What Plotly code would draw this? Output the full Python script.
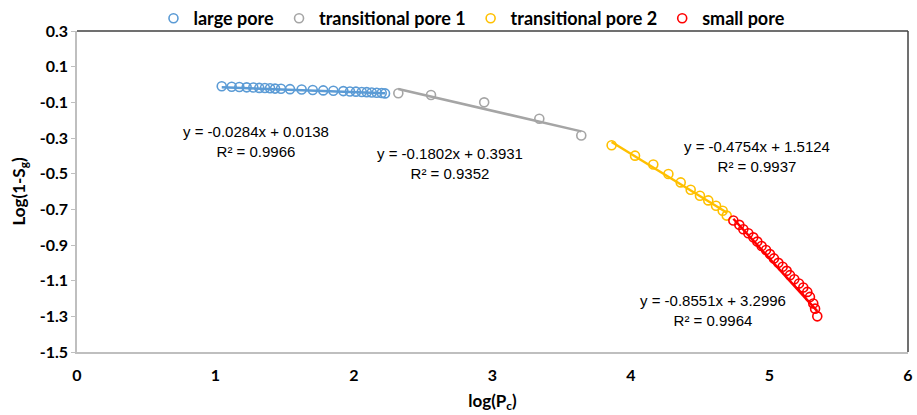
import plotly.graph_objects as go
import numpy as np

# ---------------- data ----------------
large_x = [1.045, 1.117, 1.172, 1.225, 1.273, 1.316, 1.357, 1.394, 1.430, 1.473, 1.538, 1.622,
           1.702, 1.778, 1.851, 1.923, 1.971, 2.014, 2.056, 2.092, 2.128, 2.164, 2.200, 2.224]
large_y = [-0.010, -0.013, -0.014, -0.016, -0.017, -0.019, -0.020, -0.021, -0.023, -0.024, -0.026, -0.028,
           -0.031, -0.033, -0.035, -0.037, -0.039, -0.040, -0.042, -0.043, -0.045, -0.046, -0.048, -0.050]

trans1_x = [2.320, 2.556, 2.940, 3.338, 3.641]
trans1_y = [-0.049, -0.059, -0.100, -0.192, -0.286]

trans2_x = [3.860, 4.029, 4.161, 4.270, 4.359, 4.431, 4.498, 4.558, 4.614, 4.662, 4.691]
trans2_y = [-0.341, -0.399, -0.449, -0.502, -0.549, -0.590, -0.624, -0.650, -0.680, -0.708, -0.735]

small_x = [4.739, 4.782, 4.811, 4.847, 4.883, 4.912, 4.943, 4.975, 5.003, 5.032, 5.064,
           5.095, 5.124, 5.148, 5.179, 5.213, 5.244, 5.273, 5.292, 5.316, 5.329, 5.345]
small_y = [-0.763, -0.787, -0.812, -0.834, -0.857, -0.881, -0.906, -0.928, -0.951, -0.975, -1.000,
           -1.022, -1.045, -1.069, -1.092, -1.116, -1.138, -1.163, -1.191, -1.228, -1.257, -1.300]

series_names = ["large pore", "transitional pore 1", "transitional pore 2", "small pore"]
series_colors = ["#5B9BD5", "#A5A5A5", "#FFC000", "#FF0000"]
slopes = [-0.0284, -0.1802, -0.4754, -0.8551]
intercepts = [0.0138, 0.3931, 1.5124, 3.2996]
r2_values = [0.9966, 0.9352, 0.9937, 0.9964]
label_pos_x = [1.29, 2.69, 4.91, 4.59]
label_pos_y = [-0.317, -0.444, -0.401, -1.269]

y_tick_vals = [0.3, 0.1, -0.1, -0.3, -0.5, -0.7, -0.9, -1.1, -1.3, -1.5]
y_tick_text = ["0.3", "0.1", "-0.1", "-0.3", "-0.5", "-0.7", "-0.9", "-1.1", "-1.3", "-1.5"]
x_tick_vals = [0, 1, 2, 3, 4, 5, 6]
x_tick_text = ["0", "1", "2", "3", "4", "5", "6"]

xs = [large_x, trans1_x, trans2_x, small_x]
ys = [large_y, trans1_y, trans2_y, small_y]

fig = go.Figure()

# trendlines
for x, name, c, m, b in zip(xs, series_names, series_colors, slopes, intercepts):
    lx = np.array([min(x), max(x)])
    fig.add_trace(go.Scatter(x=lx, y=m * lx + b, mode="lines",
                             line=dict(color=c, width=2.5), showlegend=False,
                             hoverinfo="skip"))

# data points
for x, y, name, c in zip(xs, ys, series_names, series_colors):
    fig.add_trace(go.Scatter(x=x, y=y, mode="markers", name=name,
                             marker=dict(symbol="circle-open", size=9, color=c,
                                         line=dict(width=1.6, color=c))))

# equation labels
for m, b, r2, lx, ly in zip(slopes, intercepts, r2_values, label_pos_x, label_pos_y):
    txt = f"y = {m:.4f}x + {b:.4f}<br>R² = {r2:.4f}"
    fig.add_annotation(x=lx, y=ly, text=txt, showarrow=False, align="center",
                       xanchor="center", yanchor="middle",
                       font=dict(family="Liberation Sans", size=15, color="#000000"))

H = 415
M_BOTTOM = 63
PLOT_TOP = 31
domain_top = (H - M_BOTTOM - PLOT_TOP) / (H - M_BOTTOM)

fig.update_layout(
    width=917, height=H,
    margin=dict(l=77, r=9, t=0, b=M_BOTTOM, autoexpand=False),
    paper_bgcolor="white", plot_bgcolor="white",
    showlegend=True,
    legend=dict(orientation="h", x=0.4753, xanchor="center", y=1.0, yanchor="top",
                font=dict(family="Lato", size=18, color="#000000", weight="bold"),
                itemwidth=30, tracegroupgap=0, bgcolor="rgba(0,0,0,0)"),
    xaxis=dict(range=[0, 6], tickmode="array", tickvals=x_tick_vals, ticktext=x_tick_text,
               showgrid=False, zeroline=False, automargin=False,
               showline=True, linecolor="#BFBFBF", linewidth=1.5,
               ticks="", tickfont=dict(family="Lato", size=16, color="#000000", weight="bold"),
               ticklabelstandoff=8,
               title=dict(text="<b>log(P<sub>c</sub>)</b>", font=dict(family="Lato", size=17, color="#000000"),
                          standoff=12)),
    yaxis=dict(domain=[0, domain_top], range=[-1.5, 0.3],
               tickmode="array", tickvals=y_tick_vals, ticktext=y_tick_text,
               automargin=False, showgrid=False, zeroline=False,
               showline=True, linecolor="#BFBFBF", linewidth=1.5,
               ticks="outside", ticklen=4, tickcolor="#BFBFBF",
               tickfont=dict(family="Lato", size=16, color="#000000", weight="bold"),
               title=dict(text="<b>Log(1-S<sub>g</sub>)</b>", font=dict(family="Lato", size=17, color="#000000"),
                          standoff=10)),
)

# plot-area frame (top and right edges darker)
fig.add_shape(type="line", xref="x domain", yref="y domain", x0=0, x1=1, y0=1, y1=1,
              line=dict(color="#404040", width=1.5))
fig.add_shape(type="line", xref="x domain", yref="y domain", x0=1, x1=1, y0=0, y1=1,
              line=dict(color="#404040", width=1.5))

fig.write_html("out.html")
